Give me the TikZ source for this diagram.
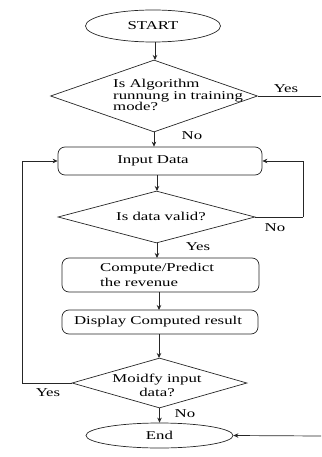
\documentclass[tikz,border=0pt]{standalone}
\usepackage{fontspec}
\setmainfont[FakeStretch=1.4]{Liberation Serif}
\usetikzlibrary{shapes.geometric,arrows.meta}
\begin{document}
\begin{tikzpicture}[x=1pt,y={(0pt,-1pt)},
  line/.style={draw=black!85,line width=0.7pt},
  arr/.style={line,-{Stealth[length=5pt,width=4.5pt]}},
  ell/.style={line,ellipse,inner sep=0pt},
  dia/.style={line,diamond,inner sep=0pt},
  boxx/.style={line,rectangle,rounded corners=7pt,inner sep=0pt},
  txt/.style={inner sep=0pt,font=\fontsize{12}{11.5}\selectfont},
  lbl/.style={inner sep=0pt,font=\fontsize{12}{12}\selectfont}]
\useasboundingbox (0,0) rectangle (321,457);
% shapes
\node[ell,minimum width=135pt,minimum height=32pt] (start) at (153,26) {};
\node[txt] (tstart) at (153,26) {START};
\node[dia,minimum width=207pt,minimum height=72pt] (d1) at (154,96) {};
\node[txt,align=left,anchor=west] (t1) at (113,95) {Is Algorithm\\runnung in training\\mode?};
\node[boxx,minimum width=204pt,minimum height=28pt] (in) at (160,161) {};
\node[txt] (tin) at (153,161) {Input Data};
\node[dia,minimum width=197pt,minimum height=52pt] (d2) at (156.5,217) {};
\node[txt] (t2) at (161,216) {Is data valid?};
\node[boxx,minimum width=197pt,minimum height=34pt] (comp) at (160.5,275) {};
\node[txt,align=left,anchor=west,font=\fontsize{12}{15.5}\selectfont] (tcomp) at (100,275) {Compute/Predict\\the revenue};
\node[boxx,minimum width=196pt,minimum height=24pt] (disp) at (160,322) {};
\node[txt] (tdisp) at (158,322) {Display Computed result};
\node[dia,minimum width=175pt,minimum height=50pt] (d3) at (159.5,383) {};
\node[txt,align=center,font=\fontsize{12}{14}\selectfont] (t3) at (157,385) {Moidfy input\\data?};
\node[ell,minimum width=147pt,minimum height=25pt] (endn) at (159.5,435.5) {};
\node[txt] (tend) at (159.5,435.5) {End};
% labels
\node[lbl] (y1) at (286,89) {Yes};
\node[lbl] (n1) at (192,136) {No};
\node[lbl] (n2) at (275,228) {No};
\node[lbl] (y2) at (198,247) {Yes};
\node[lbl] (y3) at (48,393) {Yes};
\node[lbl] (n3) at (185,414) {No};
% free ends
\coordinate (r1) at (321,96);
\coordinate (r2) at (303,217);
\coordinate (l3) at (22,383);
\coordinate (r4) at (321,436);
% connectors
\draw[arr] (start.south -| 155,0) -- (155,60);
\draw[line] (d1.east) -- (r1);
\draw[arr] (d1.south) -- (d1.south |- in.north);
\draw[arr] (157,175) -- (157,191);
\draw[line] (d2.east) -- (r2);
\draw[arr] (r2) |- (in.east);
\draw[arr] (157,243) -- (157,258);
\draw[arr] (159,292) -- (159,310);
\draw[arr] (159,334) -- (159,358);
\draw[line] (d3.west) -- (l3);
\draw[arr] (l3) |- (in.west);
\draw[arr] (159.5,408) -- (endn.north);
\draw[arr] (r4) -- (endn.east);
\end{tikzpicture}
\end{document}
